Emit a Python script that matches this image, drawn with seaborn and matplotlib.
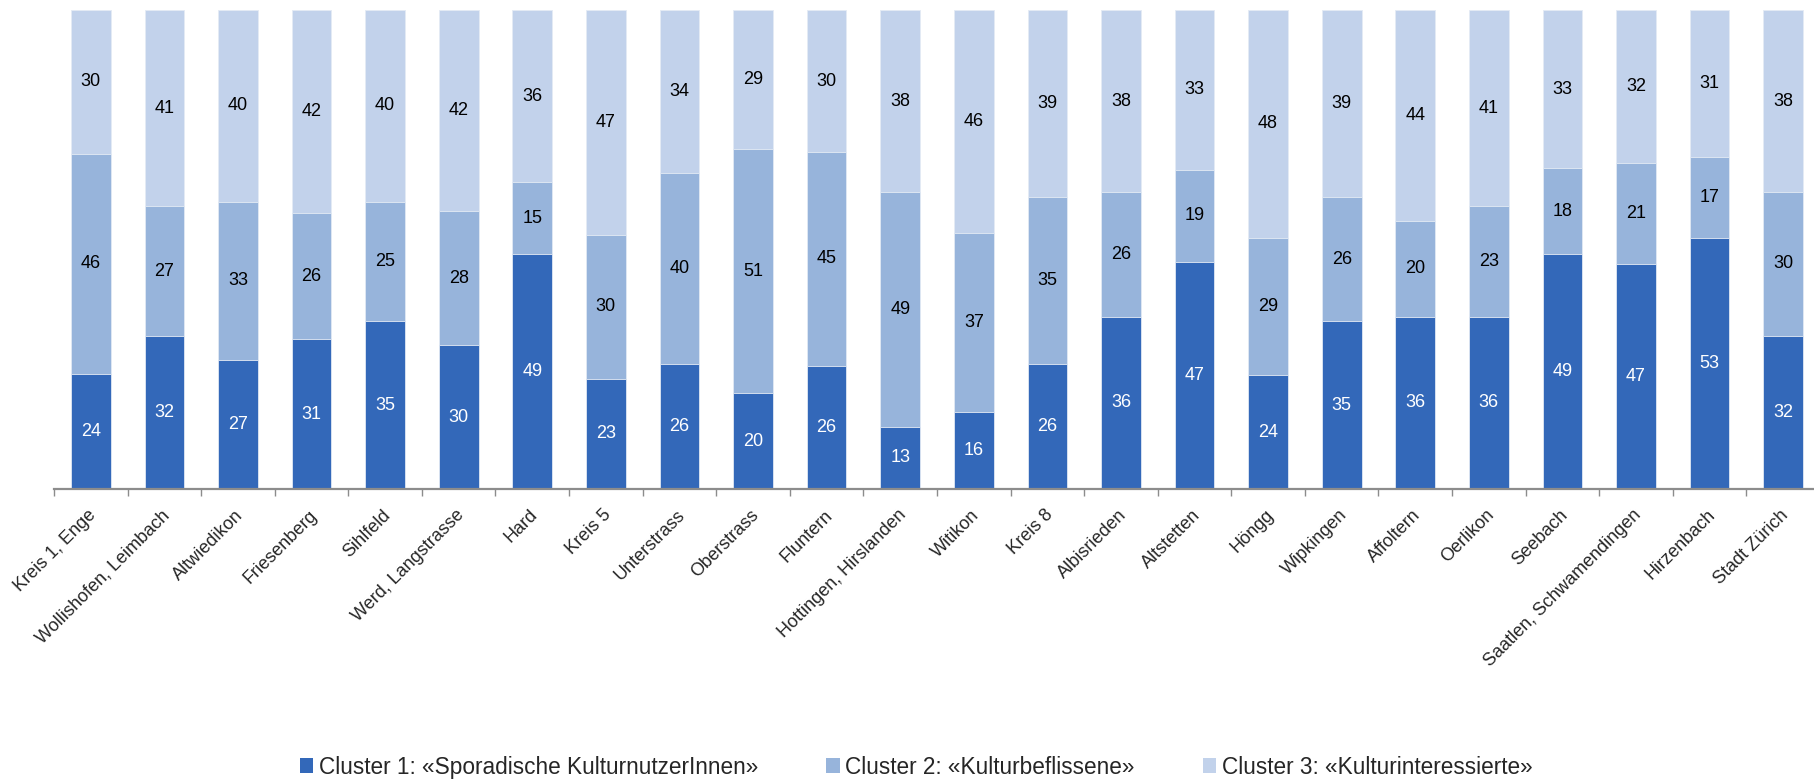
import numpy as np
import pandas as pd
import matplotlib
matplotlib.use("Agg")
import matplotlib.pyplot as plt
import matplotlib.transforms as mtransforms
from matplotlib.patches import Patch
import seaborn as sns

categories = ["Kreis 1, Enge", "Wollishofen, Leimbach", "Altwiedikon", "Friesenberg",
              "Sihlfeld", "Werd, Langstrasse", "Hard", "Kreis 5", "Unterstrass",
              "Oberstrass", "Fluntern", "Hottingen, Hirslanden", "Witikon", "Kreis 8",
              "Albisrieden", "Altstetten", "Höngg", "Wipkingen", "Affoltern", "Oerlikon",
              "Seebach", "Saatlen, Schwamendingen", "Hirzenbach", "Stadt Zürich"]
cluster1 = [24, 32, 27, 31, 35, 30, 49, 23, 26, 20, 26, 13, 16, 26, 36, 47, 24, 35, 36, 36, 49, 47, 53, 32]
cluster2 = [46, 27, 33, 26, 25, 28, 15, 30, 40, 51, 45, 49, 37, 35, 26, 19, 29, 26, 20, 23, 18, 21, 17, 30]
cluster3 = [30, 41, 40, 42, 40, 42, 36, 47, 34, 29, 30, 38, 46, 39, 38, 33, 48, 39, 44, 41, 33, 32, 31, 38]
series_names = ["Cluster 1: «Sporadische KulturnutzerInnen»",
                "Cluster 2: «Kulturbeflissene»",
                "Cluster 3: «Kulturinteressierte»"]
colors = ["#3368B9", "#97B4DB", "#C2D2EB"]

sns.set_theme(style="white")
plt.rcParams['font.family'] = ['Liberation Sans', 'DejaVu Sans']

c1 = np.array(cluster1, float)
c2 = np.array(cluster2, float)
c3 = np.array(cluster3, float)
tot = c1 + c2 + c3
p1 = c1 / tot * 100
p2 = c2 / tot * 100
p3 = c3 / tot * 100

df = pd.DataFrame({"cat": categories,
                   "top3": p1 + p2 + p3,
                   "top2": p1 + p2,
                   "top1": p1})

fig = plt.figure(figsize=(18.14, 7.82), dpi=100)
ax = fig.add_axes([54 / 1814, 1 - 489 / 782, (1820 - 54) / 1814, (489 - 10) / 782])

bw = 0.54
for col, c in zip(["top3", "top2", "top1"], colors[::-1]):
    sns.barplot(data=df, x="cat", y=col, color=c, width=bw, ax=ax,
                saturation=1, edgecolor="#E4EBF5", linewidth=0.6)

ax.set_ylim(0, 100)
ax.set_xlim(-0.5, len(categories) - 0.5)
ax.set_xlabel("")
ax.set_ylabel("")
ax.set_yticks([])
for s in ["top", "right", "left"]:
    ax.spines[s].set_visible(False)
ax.spines["bottom"].set_color("#8C8C8C")
ax.spines["bottom"].set_linewidth(1.6)

fs = 13
for i in range(len(categories)):
    ax.text(i, p1[i] / 2, f"{cluster1[i]:d}", ha="center", va="center",
            color="white", fontsize=fs)
    ax.text(i, p1[i] + p2[i] / 2, f"{cluster2[i]:d}", ha="center", va="center",
            color="black", fontsize=fs)
    ax.text(i, p1[i] + p2[i] + p3[i] / 2, f"{cluster3[i]:d}", ha="center", va="center",
            color="black", fontsize=fs)

ax.set_xticks(range(len(categories)))
ax.set_xticklabels(categories, rotation=45, ha="right", va="center",
                   rotation_mode="anchor", fontsize=13)
ax.tick_params(axis="x", which="major", length=0, pad=17)
offset = mtransforms.ScaledTranslation(3 / 100, 0, fig.dpi_scale_trans)
for lab in ax.get_xticklabels():
    lab.set_transform(lab.get_transform() + offset)
ax.set_xticks(np.arange(-0.5, len(categories), 1.0), minor=True)
ax.tick_params(axis="x", which="minor", length=5, width=1, color="#8C8C8C",
               direction="out", bottom=True)

handles = [Patch(facecolor=c, edgecolor="none") for c in colors]
fig.legend(handles, series_names, loc="center", bbox_to_anchor=(0.505, 0.019),
           ncol=3, frameon=False, fontsize=16.3, handlelength=0.6, handleheight=0.6,
           handletextpad=0.25, columnspacing=3.0)

fig.savefig("out.png", dpi=100)
